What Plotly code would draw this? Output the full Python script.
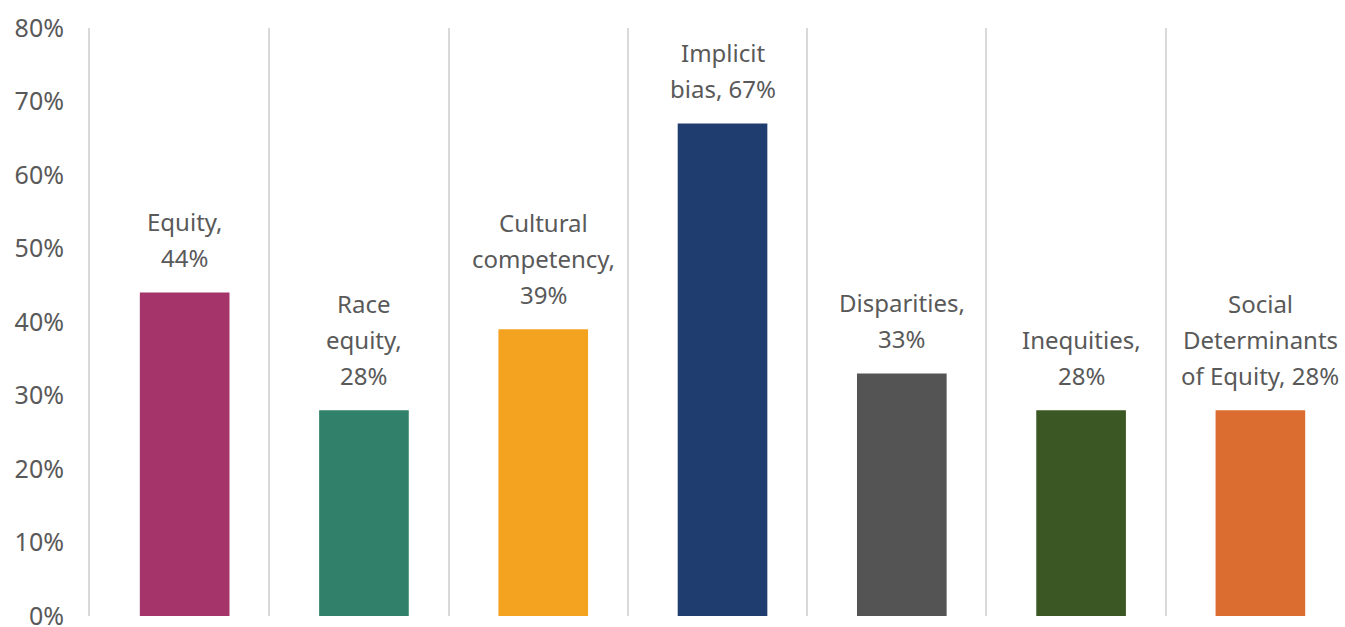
import plotly.graph_objects as go

categories = ["Equity", "Race equity", "Cultural competency", "Implicit bias",
              "Disparities", "Inequities", "Social Determinants of Equity"]
values = [0.44, 0.28, 0.39, 0.67, 0.33, 0.28, 0.28]
label_lines = [["Equity,", "44%"], ["Race", "equity,", "28%"], ["Cultural", "competency,", "39%"],
               ["Implicit", "bias, 67%"], ["Disparities,", "33%"], ["Inequities,", "28%"],
               ["Social", "Determinants", "of Equity, 28%"]]
colors = ["#A4346A", "#31816A", "#F4A320", "#1F3D6F", "#545454", "#3A5724", "#DB6D31"]
y_ticks = [0, 0.1, 0.2, 0.3, 0.4, 0.5, 0.6, 0.7, 0.8]

font = "Noto Sans, Open Sans, sans-serif"
fig = go.Figure()
fig.add_trace(go.Bar(x=categories, y=values, width=0.5, offset=-0.222,
                     marker=dict(color=colors, line=dict(width=0)),
                     hoverinfo="skip"))
for c, v, lines in zip(categories, values, label_lines):
    n = len(lines)
    for i, t in enumerate(lines):
        fig.add_annotation(x=c, y=v, text=t, showarrow=False, yanchor="middle",
                           xshift=5, yshift=35 + 36 * (n - 1 - i),
                           font=dict(family=font, size=24, color="#595959"))

fig.update_layout(
    width=1345, height=627,
    margin=dict(l=90, r=0, t=28, b=11),
    plot_bgcolor="white", paper_bgcolor="white",
    showlegend=False,
    font=dict(family=font, size=24, color="#595959"),
)
fig.update_xaxes(showticklabels=False, tickson="boundaries", showgrid=True,
                 gridcolor="#D9D9D9", gridwidth=2, ticks="", showline=False, zeroline=False)
fig.update_yaxes(range=[0, 0.8], tickvals=y_ticks, tickformat=".0%", showgrid=False,
                 zeroline=False, showline=True, linecolor="#D9D9D9", linewidth=2,
                 ticklabelstandoff=19, automargin=False, ticklabeloverflow="allow",
                 tickfont=dict(family=font, size=25, color="#595959"))
fig.write_html("out.html", config={"displayModeBar": False},
               post_script="document.body.style.margin='0';document.body.style.overflow='hidden';")
